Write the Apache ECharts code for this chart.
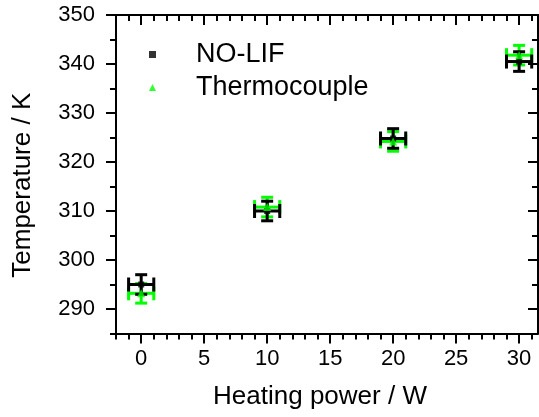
<!DOCTYPE html>
<html>
<head>
<meta charset="utf-8">
<script src="https://cdn.jsdelivr.net/npm/echarts@6/dist/echarts.min.js"></script>
<style>
  html, body { margin: 0; padding: 0; background: #fff; }
  #chart { width: 539px; height: 417px; }
</style>
</head>
<body>
<div id="chart"></div>
<script>
// Heating power (W) for each measurement
const powerW = [0, 10, 20, 30];
// NO-LIF temperature (K) and its uncertainties
const noLifK = [295.0, 310.0, 324.8, 340.5];
const noLifErrK = [2, 2, 2, 2];
const noLifErrW = [1, 1, 1, 1];
// Thermocouple temperature (K) and its uncertainties
const thermoK = [293.2, 310.8, 324.2, 341.8];
const thermoErrK = [2, 2, 2, 2];
const thermoErrW = [1, 1, 1, 1];

// Tick positions
const xMajor = [0, 5, 10, 15, 20, 25, 30];
const xMinor = [-2, -1, 1, 2, 3, 4, 6, 7, 8, 9, 11, 12, 13, 14, 16, 17, 18, 19, 21, 22, 23, 24, 26, 27, 28, 29, 31];
const yMajor = [290, 300, 310, 320, 330, 340, 350];
const yMinor = [285, 295, 305, 315, 325, 335, 345];

const X_MIN = -2, X_MAX = 31.5, Y_MIN = 285, Y_MAX = 350;
const FONT = '"Liberation Sans", Arial, sans-serif';

function rows(xs, ys, exs, eys) {
  return xs.map((x, i) => [x, ys[i], exs[i], eys[i]]);
}

function errorBars(color) {
  return function (params, api) {
    const x = api.value(0), y = api.value(1), ex = api.value(2), ey = api.value(3);
    const c = api.coord([x, y]);
    const l = api.coord([x - ex, y]), r = api.coord([x + ex, y]);
    const t = api.coord([x, y + ey]), b = api.coord([x, y - ey]);
    const capH = 6, capV = 7;
    const style = { stroke: color, lineWidth: 3 };
    const seg = (x1, y1, x2, y2) => ({ type: 'line', shape: { x1, y1, x2, y2 }, style });
    return {
      type: 'group',
      children: [
        seg(l[0], c[1], r[0], c[1]),
        seg(c[0], t[1], c[0], b[1]),
        seg(l[0], c[1] - capV, l[0], c[1] + capV),
        seg(r[0], c[1] - capV, r[0], c[1] + capV),
        seg(c[0] - capH, t[1], c[0] + capH, t[1]),
        seg(c[0] - capH, b[1], c[0] + capH, b[1])
      ]
    };
  };
}

const lineStyle = { color: '#000', width: 2 };

function xAx(pos, values, len, inside, withLine, withLabel) {
  return {
    type: 'value', position: pos, min: X_MIN, max: X_MAX,
    axisLine: { show: withLine, onZero: false, lineStyle },
    axisTick: { show: true, customValues: values, length: len, inside, lineStyle: { color: '#000', width: 2 } },
    axisLabel: withLabel
      ? { show: true, customValues: xMajor, fontSize: 22, color: '#000', fontFamily: FONT, margin: 14 }
      : { show: false },
    splitLine: { show: false }
  };
}
function yAx(pos, values, len, inside, withLine, withLabel) {
  return {
    type: 'value', position: pos, min: Y_MIN, max: Y_MAX,
    axisLine: { show: withLine, onZero: false, lineStyle },
    axisTick: { show: true, customValues: values, length: len, inside, lineStyle: { color: '#000', width: 2 } },
    axisLabel: withLabel
      ? { show: true, customValues: yMajor, fontSize: 22, color: '#000', fontFamily: FONT, margin: 21 }
      : { show: false },
    splitLine: { show: false }
  };
}

const xAxes = [
  xAx('bottom', xMajor, 10, false, true, true),
  xAx('bottom', xMinor, 6, false, false, false),
  xAx('top', xMajor, 10, true, true, false),
  xAx('top', xMinor, 6, true, false, false)
];
Object.assign(xAxes[0], {
  name: 'Heating power / W', nameLocation: 'middle', nameGap: 50,
  nameTextStyle: { fontSize: 26, color: '#000', fontFamily: FONT, padding: [0, 14, 0, 0] }
});
const yAxes = [
  yAx('left', yMajor, 10, false, true, true),
  yAx('left', yMinor, 6, false, false, false),
  yAx('right', yMajor, 10, true, true, false),
  yAx('right', yMinor, 6, true, false, false)
];
Object.assign(yAxes[0], {
  name: 'Temperature / K', nameLocation: 'middle', nameGap: 80, nameRotate: 90,
  nameTextStyle: { fontSize: 26, color: '#000', fontFamily: FONT, padding: [0, 22, 0, 0] }
});

const chart = echarts.init(document.getElementById('chart'), null, { renderer: 'canvas' });
chart.setOption({
  animation: false,
  backgroundColor: '#fff',
  grid: { left: 116, right: 1, top: 15, bottom: 83.5, containLabel: false, outerBoundsMode: 'none' },
  xAxis: xAxes,
  yAxis: yAxes,
  legend: {
    orient: 'vertical', left: 144, top: 36, itemGap: 6,
    itemWidth: 7, itemHeight: 7,
    data: ['NO-LIF', 'Thermocouple'],
    textStyle: { fontSize: 27, color: '#000', fontFamily: FONT, padding: [0, 0, 0, 35] }
  },
  series: [
    {
      type: 'custom', name: 'thermoErr', xAxisIndex: 0, yAxisIndex: 0, z: 2,
      renderItem: errorBars('#00ff00'),
      data: rows(powerW, thermoK, thermoErrW, thermoErrK)
    },
    {
      type: 'custom', name: 'noLifErr', xAxisIndex: 0, yAxisIndex: 0, z: 3,
      renderItem: errorBars('#000000'),
      data: rows(powerW, noLifK, noLifErrW, noLifErrK)
    },
    {
      type: 'scatter', name: 'NO-LIF', z: 4, symbol: 'rect', symbolSize: 6,
      itemStyle: { color: '#000' },
      data: powerW.map((x, i) => [x, noLifK[i]])
    },
    {
      type: 'scatter', name: 'Thermocouple', z: 5, symbol: 'triangle', symbolSize: 8,
      itemStyle: { color: '#00ff00' },
      data: powerW.map((x, i) => [x, thermoK[i]])
    }
  ]
});
</script>
</body>
</html>
